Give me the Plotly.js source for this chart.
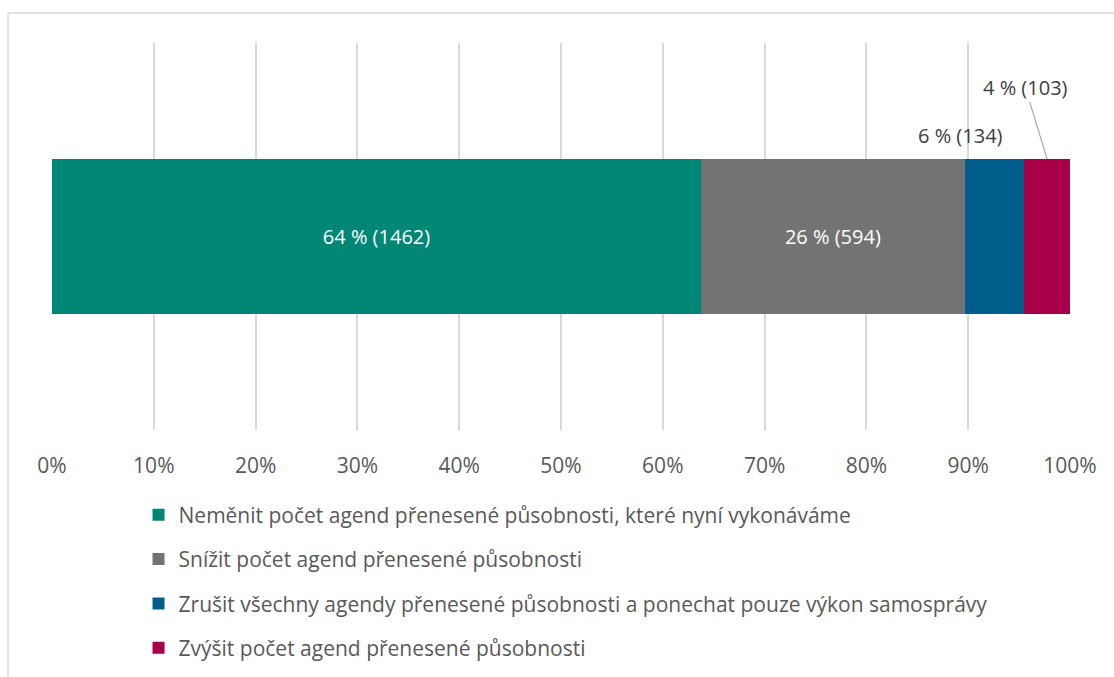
<!DOCTYPE html>
<html>
<head>
<meta charset="utf-8">
<script src="https://cdn.plot.ly/plotly-3.0.1.min.js"></script>
<style>html,body{margin:0;padding:0;background:#fff;}#chart{width:1114px;height:677px;}</style>
</head>
<body>
<div id="chart"></div>
<script>
const categories = [
  "Neměnit počet agend přenesené působnosti, které nyní vykonáváme",
  "Snížit počet agend přenesené působnosti",
  "Zrušit všechny agendy přenesené působnosti a ponechat pouze výkon samosprávy",
  "Zvýšit počet agend přenesené působnosti"
];
const counts = [1462, 594, 134, 103];
const colors = ["#008675", "#737373", "#005e8c", "#a80048"];
const tickVals = [0, 10, 20, 30, 40, 50, 60, 70, 80, 90, 100];
const tickText = ["0%", "10%", "20%", "30%", "40%", "50%", "60%", "70%", "80%", "90%", "100%"];

const total = counts.reduce((a, b) => a + b, 0);
const shares = counts.map(c => c / total * 100);
const labels = counts.map((c, i) => Math.round(shares[i]) + " % (" + c + ")");

const traces = categories.map((name, i) => ({
  type: "bar",
  orientation: "h",
  name: name,
  legendgroup: "g" + i,
  x: [shares[i]],
  y: ["r"],
  width: 0.4,
  marker: {color: colors[i], line: {width: 0}},
  text: i < 2 ? [labels[i]] : [""],
  textposition: i < 2 ? "inside" : "none",
  insidetextanchor: "middle",
  textfont: {color: "#ffffff", size: 20, family: "Open Sans"},
  hoverinfo: "name+text"
}));

const cum = [];
shares.reduce((acc, s, i) => { cum[i] = acc; return acc + s; }, 0);

const annotations = [
  {
    x: cum[2] + shares[2] / 2, y: 0.2, xref: "x", yref: "y",
    text: labels[2], showarrow: false, yanchor: "bottom", yshift: 8, xshift: -34,
    font: {size: 20, color: "#404040", family: "Open Sans"}
  },
  {
    x: cum[3] + shares[3] / 2, y: 0.2, xref: "x", yref: "y",
    text: labels[3], showarrow: true, arrowhead: 0, arrowwidth: 1.2, arrowcolor: "#a6a6a6",
    ax: -22, ay: -72, standoff: 0, startstandoff: 0,
    font: {size: 20, color: "#404040", family: "Open Sans"}
  }
];

const layout = {
  width: 1114, height: 677,
  margin: {l: 52, r: 44, t: 43, b: 247, autoexpand: false},
  paper_bgcolor: "#ffffff", plot_bgcolor: "#ffffff",
  barmode: "stack",
  font: {family: "Open Sans", color: "#595959"},
  xaxis: {
    range: [0, 100], tickvals: tickVals, ticktext: tickText,
    showgrid: true, gridcolor: "#d9d9d9", gridwidth: 1.5,
    zeroline: false, showline: false,
    ticks: "outside", ticklen: 17, tickcolor: "rgba(0,0,0,0)",
    tickfont: {size: 21, color: "#595959", family: "Open Sans"},
    fixedrange: true
  },
  yaxis: {range: [-0.5, 0.5], visible: false, fixedrange: true},
  showlegend: true,
  legend: {
    orientation: "v", x: 0.085, xanchor: "left", y: -0.167, yanchor: "top",
    traceorder: "grouped", tracegroupgap: 14,
    font: {size: 21, color: "#595959", family: "Open Sans"},
    itemwidth: 30, bgcolor: "rgba(0,0,0,0)"
  },
  annotations: annotations,
  shapes: [
    {type: "line", xref: "paper", yref: "paper", x0: -0.0432, x1: 1.1, y0: 1.0775, y1: 1.0775, line: {color: "#d9d9d9", width: 1.5}},
    {type: "line", xref: "paper", yref: "paper", x0: -0.0432, x1: -0.0432, y0: 1.0775, y1: -0.7, line: {color: "#d9d9d9", width: 1.5}}
  ]
};

Plotly.newPlot("chart", traces, layout, {displayModeBar: false, staticPlot: false});
</script>
</body>
</html>
